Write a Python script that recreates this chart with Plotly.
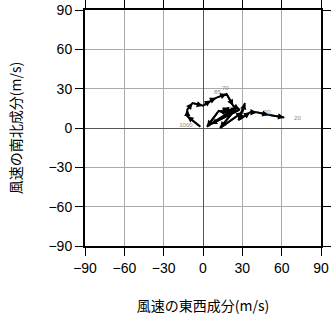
import plotly.graph_objects as go

# Hodograph points (u: east-west, v: north-south), m/s
u = [-2, -12, -12, -8, 0, 6, 10, 18, 23, 28, 6, 24, 15, 22, 12, 3, 26, 13, 30, 32, 27, 36, 41, 50, 62]
v = [1, 9, 14, 19, 17, 21, 23, 26, 17, 14, 3, 13, 15, 11, 13, 1, 16, 0, 12, 19, 6, 12, 12, 10, 8]

label_text = ["1000", "85", "70", "30", "20"]
label_u = [-13, 11, 17, 49, 72]
label_v = [2, 27, 30, 12, 7]

tickvals = [-90, -60, -30, 0, 30, 60, 90]
ticktext = ["\u221290", "\u221260", "\u221230", "0", "30", "60", "90"]

fig = go.Figure()
fig.add_trace(go.Scatter(x=u, y=v, mode="lines", line=dict(color="black", width=2),
                         hoverinfo="skip", showlegend=False))
fig.add_trace(go.Scatter(x=label_u, y=label_v, mode="text", text=label_text,
                         textfont=dict(size=6, color="#888888", family="Liberation Sans"),
                         showlegend=False, hoverinfo="skip"))

anns = []
for i in range(len(u) - 1):
    anns.append(dict(x=u[i + 1], y=v[i + 1], ax=u[i], ay=v[i], xref="x", yref="y",
                     axref="x", ayref="y", showarrow=True, arrowhead=2, arrowsize=0.7,
                     arrowwidth=1.8, arrowcolor="black", text=""))
fig.update_layout(annotations=anns)

axis_common = dict(range=[-90, 90], tickvals=tickvals, ticktext=ticktext,
                   showgrid=True, gridcolor="#aaaaaa", gridwidth=1,
                   zeroline=True, zerolinecolor="#555555", zerolinewidth=1,
                   showline=True, linecolor="black", linewidth=2, mirror="ticks",
                   ticks="outside", ticklen=8, tickcolor="black", tickwidth=1,
                   automargin=False,
                   tickfont=dict(size=14, color="black", family="Liberation Sans"))

fig.update_xaxes(**axis_common,
                 title=dict(text="風速の東西成分(m/s)", standoff=26,
                            font=dict(size=14, color="black", family="Noto Sans CJK JP")))
fig.update_yaxes(**axis_common,
                 title=dict(text="風速の南北成分(m/s)", standoff=24,
                            font=dict(size=14, color="black", family="Noto Sans CJK JP")))

fig.update_layout(width=331, height=318, margin=dict(l=85, r=10, t=10, b=72),
                  plot_bgcolor="white", paper_bgcolor="white")
fig.write_html("out.html")
